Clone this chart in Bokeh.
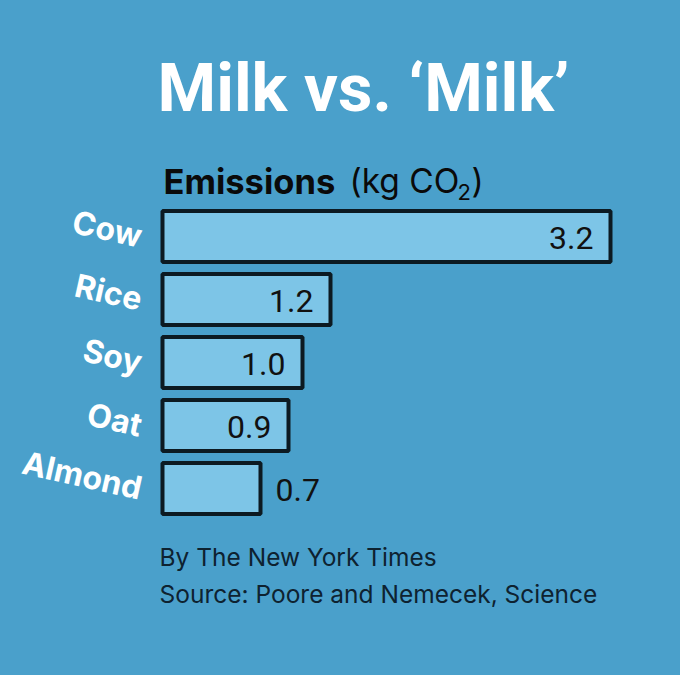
from bokeh.plotting import figure
from bokeh.models import Range1d, Label, ColumnDataSource
from bokeh.core.properties import value
from bokeh.embed import file_html
from bokeh.resources import INLINE

categories = ["Cow", "Rice", "Soy", "Oat", "Almond"]
emissions = [3.2, 1.2, 1.0, 0.9, 0.7]
value_labels = ["3.2", "1.2", "1.0", "0.9", "0.7"]

BG = "#4aa0cb"
BAR = "#7dc5e7"
INK = "#0c1a22"
FONT = "Inter"
NUMFONT = "Roboto"
TITLEFONT = "Roboto"

W, H = 680, 675
PX_X = 140.0   # px per kg
PX_Y = 63.0    # px per category
X0 = 162.0     # screen x of zero
Y0 = 236.0     # screen y (from top) of first category

idx = list(range(len(categories)))
inside = [v >= 0.8 for v in emissions]

src = ColumnDataSource(dict(y=idx, v=emissions, cat=categories, lab=value_labels))
src_in = ColumnDataSource(dict(
    y=[i for i, f in zip(idx, inside) if f],
    v=[v for v, f in zip(emissions, inside) if f],
    lab=[l for l, f in zip(value_labels, inside) if f],
))
src_out = ColumnDataSource(dict(
    y=[i for i, f in zip(idx, inside) if not f],
    v=[v for v, f in zip(emissions, inside) if not f],
    lab=[l for l, f in zip(value_labels, inside) if not f],
))

p = figure(width=W, height=H, output_backend="svg", toolbar_location=None,
           x_range=Range1d(-X0 / PX_X, (W - X0) / PX_X),
           y_range=Range1d((H - Y0) / PX_Y, -Y0 / PX_Y),
           min_border=0, min_border_left=0, min_border_right=0,
           min_border_top=0, min_border_bottom=0)
p.background_fill_color = BG
p.border_fill_color = BG
p.outline_line_color = None
p.axis.visible = False
p.grid.visible = False

p.hbar(y="y", left=0, right="v", height=0.81, source=src,
       fill_color=BAR, line_color=INK, line_width=4)

p.text(x="v", y="y", text="lab", source=src_in, x_offset=-17, y_offset=1,
       text_align="right", text_baseline="middle", text_color="#111111",
       text_font=value(NUMFONT), text_font_size="32px")
p.text(x="v", y="y", text="lab", source=src_out, x_offset=15, y_offset=1,
       text_align="left", text_baseline="middle", text_color="#111111",
       text_font=value(NUMFONT), text_font_size="32px")

p.text(x=0, y="y", text="cat", source=src, x_offset=-21, angle=-0.22,
       text_align="right", text_baseline="middle", text_color="white",
       text_font=value(FONT), text_font_style="bold", text_font_size="32px")

def lab(text, x_img, base_img, size, font, style="normal", color="white"):
    shift = 0.36 * size
    p.add_layout(Label(x=x_img, y=H - (base_img - shift), x_units="screen", y_units="screen",
                       text=text, text_font=font, text_font_size="%gpx" % size,
                       text_font_style=style, text_color=color,
                       text_baseline="alphabetic", text_align="left"))

lab("Milk vs. \u2018Milk\u2019", 157, 112, 67, TITLEFONT, "bold", "white")
lab("Emissions", 163, 193, 34.5, FONT, "bold", "#0a0a0a")
lab("(kg CO", 349, 193, 33.5, FONT, "normal", "#0a0a0a")
lab("2", 457, 199, 22, FONT, "normal", "#0a0a0a")
lab(")", 471, 193, 33.5, FONT, "normal", "#0a0a0a")
lab("By The New York Times", 159, 565, 24.5, FONT, "normal", "#0e2230")
lab("Source: Poore and Nemecek, Science", 159, 602, 24.5, FONT, "normal", "#0e2230")

html = file_html(p, INLINE)
html = html.replace("</head>", "<style>html,body{background:%s;}</style></head>" % BG, 1)
open("out.html", "w").write(html)
